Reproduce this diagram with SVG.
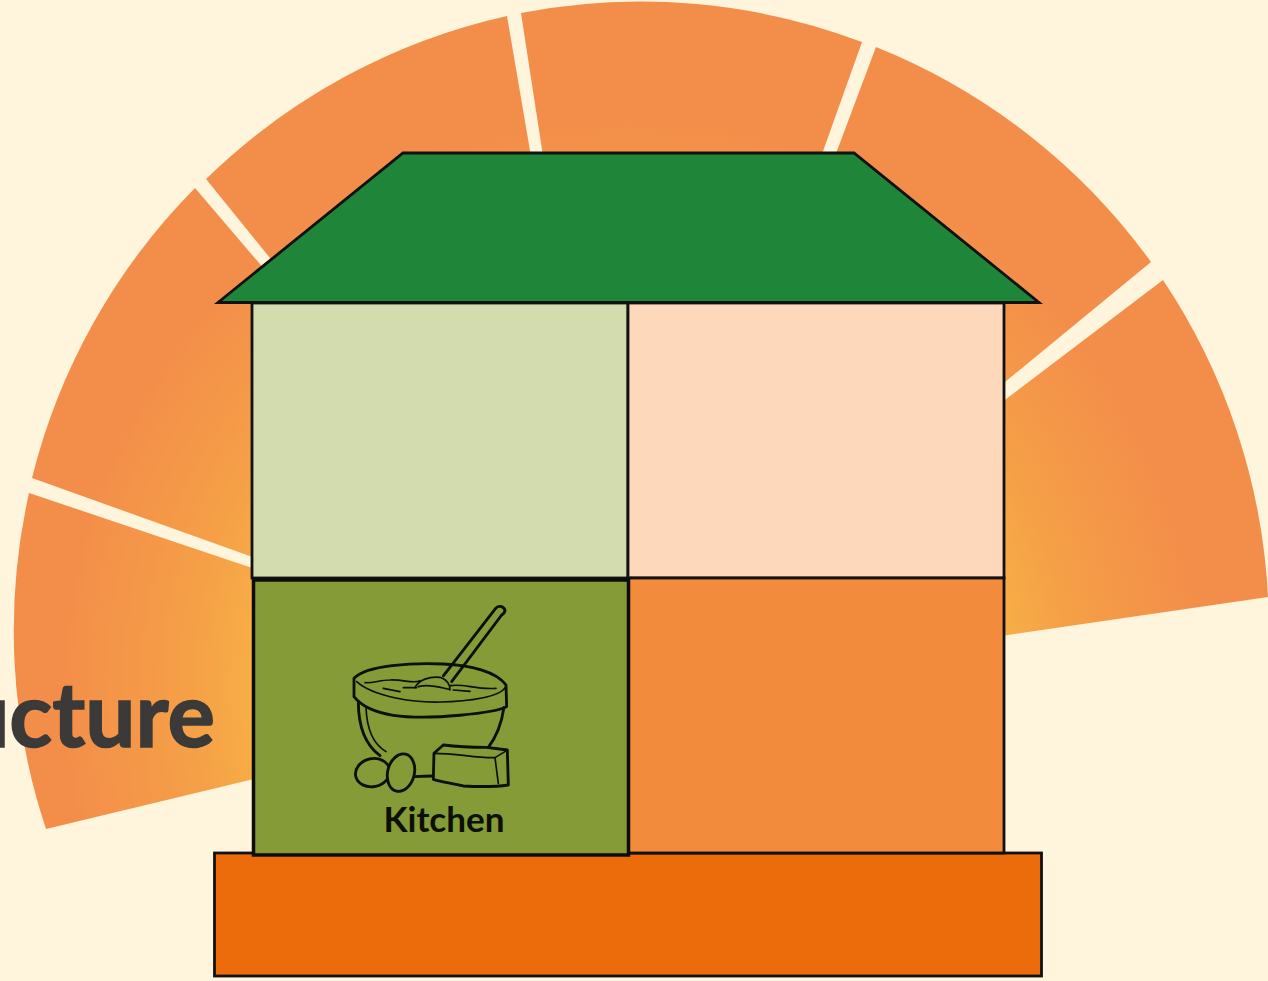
<svg xmlns="http://www.w3.org/2000/svg" width="1268" height="981" viewBox="0 0 1268 981">
<style>
.wedge{fill:url(#fan)}
.cell{stroke:#111;stroke-width:2.800}
.ink{fill:none;stroke:#0c0f06;stroke-width:8.500;stroke-linejoin:round;stroke-linecap:round}
.thin{fill:none;stroke:#0c0f06;stroke-width:5;stroke-linecap:round;stroke-linejoin:round}
</style>
<defs>
<radialGradient id="fan" gradientUnits="userSpaceOnUse" cx="630" cy="690" r="627">
<stop offset="0.56" stop-color="#f8b445"/>
<stop offset="0.7" stop-color="#f5a047"/>
<stop offset="0.92" stop-color="#f38d4a"/>
<stop offset="1" stop-color="#f38d4a"/>
</radialGradient>
</defs>
<rect width="1268" height="981" fill="#fff4dc"/>
<g id="fan-wedges">
<path class="wedge" d="M300 768L46 829A627 627 0 0 1 29 493L300 584Z"/>
<path class="wedge" d="M300 574L32 478A627 627 0 0 1 195 188L300 311Z"/>
<path class="wedge" d="M300 295L206 179A627 627 0 0 1 507 16L535 180Z"/>
<path class="wedge" d="M547 182L521 13A627 627 0 0 1 862 42L812 182Z"/>
<path class="wedge" d="M826 180L876 47A627 627 0 0 1 1151 262L960 419Z"/>
<path class="wedge" d="M960 434L1163 280A627 627 0 0 1 1268 597L960 642Z"/>
</g>
<text id="title" x="215" y="747" text-anchor="end" font-family="Lato, 'Open Sans', sans-serif" font-weight="700" font-size="89" fill="#3b3a39" stroke="#3b3a39" stroke-width="1.500">ucture</text>
<g id="plinth"><rect class="cell" x="214.500" y="853" width="827" height="123" fill="#ec6c0c"/></g>
<g id="room-top-left"><rect class="cell" x="252" y="303" width="376" height="275" fill="#d3dcae"/></g>
<g id="room-top-right"><rect class="cell" x="628" y="303" width="376" height="275" fill="#fdd8bb"/></g>
<g id="room-bottom-right"><rect class="cell" x="628" y="578" width="376" height="275" fill="#f38b3c"/></g>
<g id="roof"><polygon class="cell" points="403,153 854,153 1039,302.500 218,302.500" fill="#1f8639"/></g>
<g id="kitchen">
<rect x="253.500" y="580" width="375" height="275" fill="#849b37" stroke="#0c0c0c" stroke-width="3.500"/>
<g transform="translate(330 590) scale(.3333)">
<path class="ink" d="M72 265C110 225 250 218 340 222C420 225 500 245 528 285L530 350C500 368 300 392 190 376C140 368 95 350 72 320Z"/>
<path class="thin" d="M80 275C130 320 250 338 330 336C420 335 510 320 526 292"/>
<path class="ink" d="M85 335C85 400 100 460 150 497M522 352C515 400 500 440 475 472M250 560L305 558"/>
<path class="thin" d="M108 352C110 410 125 460 168 485"/>
<path class="thin" d="M105 278C130 280 150 270 180 270C220 268 250 282 270 272M362 287C400 280 440 300 498 295M160 295L210 305M220 293L260 293M370 300L420 304"/>
<path class="thin" d="M255 293C265 270 300 258 330 262C350 268 362 285 360 300M265 290C300 280 340 295 358 298"/>
<path class="ink" d="M340 258L497 55C505 45 520 48 525 60C525 68 520 72 515 75L365 275"/>
<ellipse class="ink" cx="128" cy="548" rx="52" ry="42" transform="rotate(-12 128 548)"/>
<ellipse cx="213" cy="548" rx="40" ry="57" transform="rotate(14 213 548)" fill="#849b37" stroke="#0c0f06" stroke-width="8.500"/>
<path class="ink" d="M312 490L340 465C380 470 430 472 470 472L532 480L535 585C500 590 440 590 400 588C370 580 330 575 310 568Z"/>
<path class="thin" d="M312 490C380 490 440 505 495 503L530 482M495 503L505 580"/>
</g>
<text x="444" y="832" text-anchor="middle" font-family="Lato, 'Open Sans', sans-serif" font-weight="700" font-size="35" textLength="121" lengthAdjust="spacingAndGlyphs" fill="#0c0f06">Kitchen</text>
</g>
</svg>
